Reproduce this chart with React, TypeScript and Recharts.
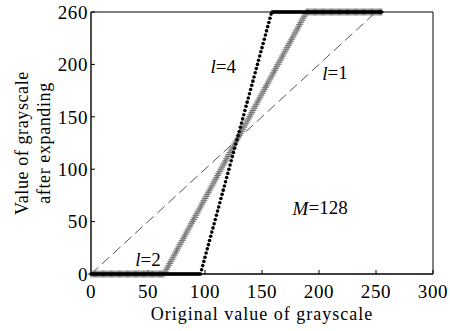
import { LineChart, Line, XAxis, YAxis, ReferenceLine, ReferenceDot } from 'recharts';

// grayscale level = array index (0..255)
const l4Values = [
  0, 0, 0, 0, 0, 0, 0, 0, 0, 0, 0, 0, 0, 0, 0, 0, 0, 0, 0, 0,
  0, 0, 0, 0, 0, 0, 0, 0, 0, 0, 0, 0, 0, 0, 0, 0, 0, 0, 0, 0,
  0, 0, 0, 0, 0, 0, 0, 0, 0, 0, 0, 0, 0, 0, 0, 0, 0, 0, 0, 0,
  0, 0, 0, 0, 0, 0, 0, 0, 0, 0, 0, 0, 0, 0, 0, 0, 0, 0, 0, 0,
  0, 0, 0, 0, 0, 0, 0, 0, 0, 0, 0, 0, 0, 0, 0, 0, 0,
  4, 8, 12, 16, 20, 24, 28, 32, 36, 40, 44, 48, 52, 56, 60, 64, 68, 72, 76, 80,
  84, 88, 92, 96, 100, 104, 108, 112, 116, 120, 124, 128, 132, 136, 140, 144, 148, 152, 156, 160,
  164, 168, 172, 176, 180, 184, 188, 192, 196, 200, 204, 208, 212, 216, 220, 224, 228, 232, 236, 240,
  244, 248,
  250, 250, 250, 250, 250, 250, 250, 250, 250, 250, 250, 250, 250, 250, 250, 250, 250, 250, 250, 250,
  250, 250, 250, 250, 250, 250, 250, 250, 250, 250, 250, 250, 250, 250, 250, 250, 250, 250, 250, 250,
  250, 250, 250, 250, 250, 250, 250, 250, 250, 250, 250, 250, 250, 250, 250, 250, 250, 250, 250, 250,
  250, 250, 250, 250, 250, 250, 250, 250, 250, 250, 250, 250, 250, 250, 250, 250, 250, 250, 250, 250,
  250, 250, 250, 250, 250, 250, 250, 250, 250, 250, 250, 250, 250, 250, 250, 250, 250,
];

const l2Values = [
  0, 0, 0, 0, 0, 0, 0, 0, 0, 0, 0, 0, 0, 0, 0, 0, 0, 0, 0, 0,
  0, 0, 0, 0, 0, 0, 0, 0, 0, 0, 0, 0, 0, 0, 0, 0, 0, 0, 0, 0,
  0, 0, 0, 0, 0, 0, 0, 0, 0, 0, 0, 0, 0, 0, 0, 0, 0, 0, 0, 0,
  0, 0, 0, 0, 0,
  2, 4, 6, 8, 10, 12, 14, 16, 18, 20, 22, 24, 26, 28, 30, 32, 34, 36, 38, 40,
  42, 44, 46, 48, 50, 52, 54, 56, 58, 60, 62, 64, 66, 68, 70, 72, 74, 76, 78, 80,
  82, 84, 86, 88, 90, 92, 94, 96, 98, 100, 102, 104, 106, 108, 110, 112, 114, 116, 118, 120,
  122, 124, 126, 128, 130, 132, 134, 136, 138, 140, 142, 144, 146, 148, 150, 152, 154, 156, 158, 160,
  162, 164, 166, 168, 170, 172, 174, 176, 178, 180, 182, 184, 186, 188, 190, 192, 194, 196, 198, 200,
  202, 204, 206, 208, 210, 212, 214, 216, 218, 220, 222, 224, 226, 228, 230, 232, 234, 236, 238, 240,
  242, 244, 246, 248, 250,
  250, 250, 250, 250, 250, 250, 250, 250, 250, 250, 250, 250, 250, 250, 250, 250, 250, 250, 250, 250,
  250, 250, 250, 250, 250, 250, 250, 250, 250, 250, 250, 250, 250, 250, 250, 250, 250, 250, 250, 250,
  250, 250, 250, 250, 250, 250, 250, 250, 250, 250, 250, 250, 250, 250, 250, 250, 250, 250, 250, 250,
  250, 250, 250, 250, 250, 250,
];

// l=1 identity line (dashed)
const l1Points = [
  { x: 0, l1: 0 },
  { x: 250, l1: 250 },
];

const xTicks = [0, 50, 100, 150, 200, 250, 300];
const yTicks = [0, 50, 100, 150, 200, 250];
const yTickLabels = ['0', '50', '100', '150', '200', '260'];

const notes = [
  { x: 116, y: 198, italic: 'l', rest: '=4' },
  { x: 214, y: 192, italic: 'l', rest: '=1' },
  { x: 50, y: 14, italic: 'l', rest: '=2' },
  { x: 201, y: 63, italic: 'M', rest: '=128' },
];

const FONT = '"Liberation Serif", "Times New Roman", serif';

const rows = l4Values.map((v, i) => ({ x: i, l4: v, l2: l2Values[i] }));

function BlackDot(p: any) {
  return <circle key={`b${p.index}`} cx={p.cx} cy={p.cy} r={1.8} fill="#000" />;
}

function PlusDot(p: any) {
  return (
    <path
      key={`p${p.index}`}
      d={`M${p.cx - 3.5},${p.cy}h7M${p.cx},${p.cy - 3.5}v7`}
      stroke="#7a7a7a"
      strokeWidth={1}
      fill="none"
    />
  );
}

function XTitle({ viewBox }: any) {
  return (
    <text
      x={viewBox.x + viewBox.width / 2}
      y={viewBox.y + 46}
      textAnchor="middle"
      fontFamily={FONT}
      fontSize={18}
      letterSpacing={1}
      fill="#000"
    >
      Original value of grayscale
    </text>
  );
}

function YTitle({ viewBox }: any) {
  const cy = viewBox.y + viewBox.height / 2;
  return (
    <g fontFamily={FONT} fontSize={18} fill="#000" letterSpacing={0.6}>
      <text x={28} y={cy} textAnchor="middle" transform={`rotate(-90, 28, ${cy})`}>
        Value of grayscale
      </text>
      <text x={50} y={cy} textAnchor="middle" transform={`rotate(-90, 50, ${cy})`}>
        after expanding
      </text>
    </g>
  );
}

export default function App() {
  return (
    <div style={{ position: 'absolute', left: 0, top: 0, width: 450, height: 331, background: '#fff' }}>
      <LineChart width={450} height={331} data={rows} margin={{ top: 12, right: 17, bottom: 0, left: 0 }}>
        <XAxis
          type="number"
          dataKey="x"
          domain={[0, 300]}
          ticks={xTicks}
          tickSize={-4}
          tickMargin={15}
          height={57}
          stroke="#000"
          axisLine={{ stroke: '#000', strokeWidth: 1.4 }}
          tick={{ fontFamily: FONT, fontSize: 19, fill: '#000', letterSpacing: 0.6 }}
          label={{ content: XTitle }}
        />
        <YAxis
          type="number"
          domain={[0, 250]}
          ticks={yTicks}
          tickFormatter={(v: number) => yTickLabels[yTicks.indexOf(v)]}
          tickSize={-4}
          tickMargin={7}
          width={91}
          stroke="#000"
          axisLine={{ stroke: '#000', strokeWidth: 1.4 }}
          tick={{ fontFamily: FONT, fontSize: 19, fill: '#000', letterSpacing: 0.6 }}
          label={{ content: YTitle }}
        />
        <ReferenceLine y={250} stroke="#000" strokeWidth={1} />
        <ReferenceLine x={300} stroke="#000" strokeWidth={1} />
        <Line
          data={l1Points}
          dataKey="l1"
          type="linear"
          stroke="#555"
          strokeWidth={1}
          strokeDasharray="10 5"
          dot={false}
          activeDot={false}
          isAnimationActive={false}
        />
        <Line
          dataKey="l2"
          type="linear"
          stroke="none"
          dot={PlusDot}
          activeDot={false}
          isAnimationActive={false}
        />
        <Line
          dataKey="l4"
          type="linear"
          stroke="none"
          dot={BlackDot}
          activeDot={false}
          isAnimationActive={false}
        />
        {notes.map((n) => (
          <ReferenceDot
            key={n.italic + n.rest}
            x={n.x}
            y={n.y}
            r={0}
            shape={(p: any) => (
              <text
                x={p.cx}
                y={p.cy}
                textAnchor="middle"
                dominantBaseline="central"
                fontFamily={FONT}
                fontSize={19}
                fill="#000"
              >
                <tspan fontStyle="italic">{n.italic}</tspan>
                {n.rest}
              </text>
            )}
          />
        ))}
      </LineChart>
    </div>
  );
}
